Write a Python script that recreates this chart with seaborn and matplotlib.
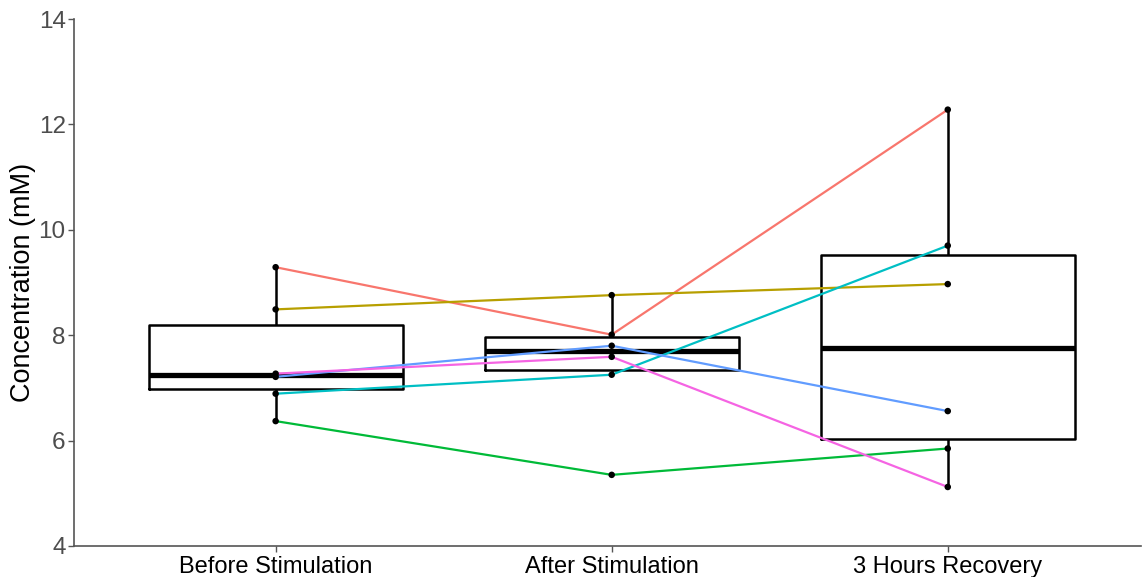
import matplotlib
matplotlib.use("Agg")
import matplotlib.pyplot as plt
import numpy as np
import pandas as pd
import seaborn as sns

conditions = ["Before Stimulation", "After Stimulation", "3 Hours Recovery"]
subjects = ["S1", "S2", "S3", "S4", "S5", "S6"]
colors = ["#F8766D", "#B79F00", "#00BA38", "#00BFC4", "#619CFF", "#F564E3"]

# concentration per subject, one list per condition
before = [9.29, 8.49, 6.37, 6.89, 7.21, 7.27]
after = [8.01, 8.76, 5.35, 7.25, 7.80, 7.59]
recovery = [12.28, 8.97, 5.85, 9.70, 6.56, 5.12]

rows = []
for i, vals in enumerate([before, after, recovery]):
    for s, v in zip(subjects, vals):
        rows.append({"condition": conditions[i], "pos": i, "subject": s, "conc": v})
df = pd.DataFrame(rows)

sns.set_style("white")
plt.rcParams["font.family"] = ["Liberation Sans", "DejaVu Sans"]

fig = plt.figure(figsize=(11.43, 5.77), dpi=100)
ax = fig.add_axes([74 / 1143, 31 / 577, 1067 / 1143, 527 / 577])

sns.boxplot(data=df, x="condition", y="conc", order=conditions, ax=ax,
            fill=False, color="black", width=0.755, showcaps=False,
            showfliers=False, linewidth=1.8, whis=1.5,
            medianprops=dict(linewidth=3.8, color="black"))

sns.lineplot(data=df, x="pos", y="conc", hue="subject", hue_order=subjects,
             palette=colors, linewidth=1.6, legend=False, ax=ax, zorder=3)

sns.scatterplot(data=df, x="pos", y="conc", color="black", s=22,
                edgecolor="none", ax=ax, zorder=4)

ax.set_xlim(-0.6, 2.575)
ax.set_ylim(4, 14)
ax.set_yticks([4, 6, 8, 10, 12, 14])
ax.set_xticks([0, 1, 2])
ax.set_xticklabels(conditions)
ax.set_xlabel("")
ax.set_ylabel("Concentration (mM)", fontsize=19.5, color="black", labelpad=2)
ax.tick_params(axis="x", labelsize=17, labelcolor="black", length=4,
               color="#555555", width=1)
ax.tick_params(axis="y", labelsize=17.5, labelcolor="#4D4D4D", length=4,
               color="#555555", width=1, pad=2)
ax.tick_params(bottom=True, left=True)

for side in ["top", "right"]:
    ax.spines[side].set_visible(False)
for side in ["left", "bottom"]:
    ax.spines[side].set_color("#555555")
    ax.spines[side].set_linewidth(1.2)

fig.savefig("out.png", dpi=100)
